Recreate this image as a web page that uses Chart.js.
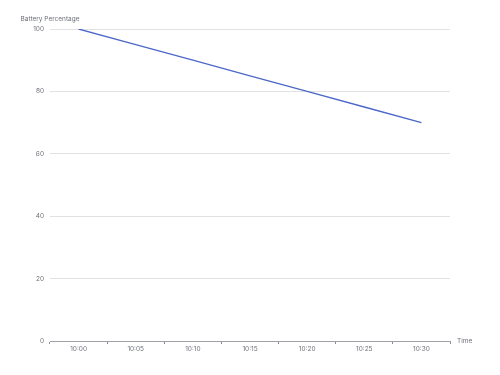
<!DOCTYPE html>
<html>
<head>
<meta charset="utf-8">
<script src="https://cdn.jsdelivr.net/npm/chart.js@4"></script>
<style>
  html, body { margin: 0; padding: 0; background: #fff; }
  #wrap { width: 500px; height: 375px; }
</style>
</head>
<body>
<div id="wrap"><canvas id="battery"></canvas></div>
<script>
// data
const times = ["10:00", "10:05", "10:10", "10:15", "10:20", "10:25", "10:30"];
const batteryValues = [100, 95, 90, 85, 80, 75, 70];
const yTicks = [0, 20, 40, 60, 80, 100];

const textColor = "#6e7079";
const fontFamily = "Inter, 'Noto Sans', sans-serif";
const fontSize = 6.5;

// axis names drawn like the reference (top of y axis, end of x axis)
const axisNames = {
  id: "axisNames",
  afterDraw(chart) {
    const { ctx, chartArea } = chart;
    ctx.save();
    ctx.fillStyle = textColor;
    ctx.font = fontSize + "px " + fontFamily;
    ctx.textBaseline = "middle";
    ctx.textAlign = "center";
    ctx.fillText("Battery Percentage", chartArea.left, chartArea.top - 10);
    ctx.textAlign = "left";
    ctx.fillText("Time", chartArea.right + 7, chartArea.bottom);
    ctx.restore();
  },
};

new Chart(document.getElementById("battery"), {
  type: "line",
  data: {
    labels: times,
    datasets: [
      {
        label: "Battery Percentage",
        data: batteryValues,
        borderColor: "#4d67c9",
        borderWidth: 1.3,
        pointRadius: 0,
        tension: 0,
        fill: false,
      },
    ],
  },
  options: {
    responsive: true,
    maintainAspectRatio: false,
    animation: false,
    layout: { padding: { top: 29, right: 50, left: 0, bottom: 0 } },
    plugins: {
      legend: { display: false },
      tooltip: { enabled: false },
    },
    scales: {
      x: {
        offset: true,
        afterFit(scale) { scale.height = 34; },
        grid: {
          offset: true,
          drawOnChartArea: false,
          drawTicks: true,
          tickLength: 3,
          color: "#8a8c94",
        },
        border: { display: true, color: "#a0a2a8", width: 1 },
        ticks: {
          color: textColor,
          font: { size: fontSize, family: fontFamily },
          padding: 1,
          maxRotation: 0,
        },
      },
      y: {
        min: 0,
        max: 100,
        afterFit(scale) { scale.width = 50; },
        afterBuildTicks(scale) { scale.ticks = yTicks.map(v => ({ value: v })); },
        grid: { color: "#e2e2e2", drawTicks: false, lineWidth: 1 },
        border: { display: false },
        ticks: {
          color: textColor,
          font: { size: fontSize, family: fontFamily },
          padding: 6,
        },
      },
    },
  },
  plugins: [axisNames],
});
</script>
</body>
</html>
